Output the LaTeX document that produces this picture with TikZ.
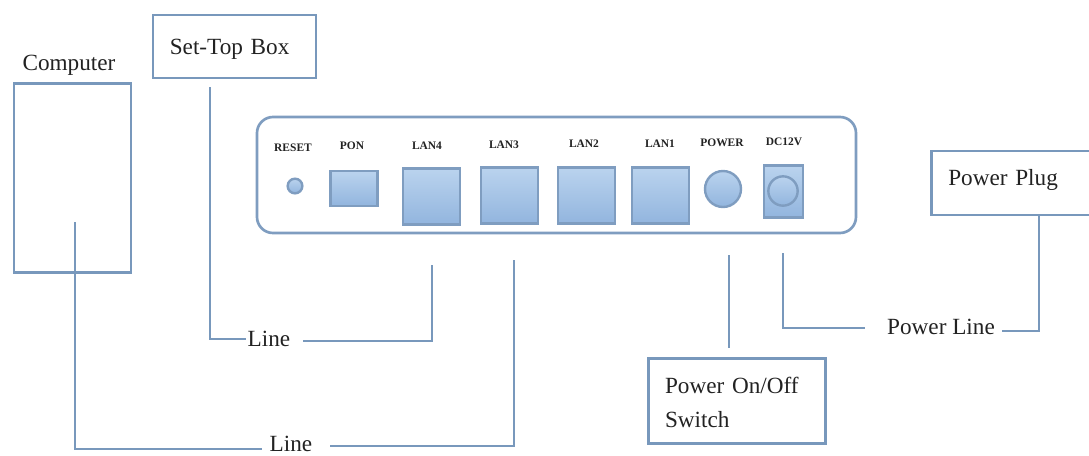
\documentclass[tikz,border=0pt]{standalone}
\usepackage{fontspec}
\setmainfont{Liberation Serif}
\definecolor{portedge}{HTML}{7F9DC0}
\definecolor{porttop}{HTML}{BAD3EE}
\definecolor{portbot}{HTML}{92B5DE}
\definecolor{linecol}{HTML}{7898BC}
\definecolor{inkcol}{HTML}{222222}
\tikzset{
  callout/.style={draw=linecol, line width=1.8pt, inner xsep=12.5pt, inner ysep=0pt, align=left, text=inkcol, font=\fontsize{17.4}{25.5}\selectfont},
  caption/.style={inner sep=1pt, text=inkcol, font=\fontsize{17.4}{20}\selectfont},
  wire/.style={draw=linecol, line width=1.5pt},
  portname/.style={inner sep=0pt, text=inkcol, font=\bfseries\fontsize{8.6}{10}\selectfont},
  port/.style={draw=portedge, line width=1.8pt, top color=porttop, bottom color=portbot, inner sep=0pt},
  rjport/.style={port, minimum width=43pt, minimum height=42pt},
  roundport/.style={port, circle}
}
\begin{document}
\begin{tikzpicture}[x=0.75pt, y=-0.75pt]
\useasboundingbox (0,0) rectangle (1089,455);
% router front panel
\draw[draw=portedge, line width=2pt, rounded corners=12pt] (257,117) rectangle (856,233);
\node[roundport, minimum size=11pt] (reset) at (295,186) {};
\node[port, minimum width=35pt, minimum height=26pt] (pon) at (354,188.5) {};
\node[rjport] (lanfour) at (431.5,196.5) {};
\node[rjport] (lanthree) at (509.5,195.5) {};
\node[rjport] (lantwo) at (586.5,195.5) {};
\node[rjport] (lanone) at (660.5,195.5) {};
\node[roundport, minimum size=27pt] (power) at (723,189) {};
\node[port, minimum width=29pt, minimum height=39pt] (dc) at (783.5,191.5) {};
\node[roundport, minimum size=22pt] (dcjack) at (783,191) {};
% port names
\node[portname] at (293,148) {RESET};
\node[portname] at (352,146) {PON};
\node[portname] at (427,146) {LAN4};
\node[portname] at (504,145) {LAN3};
\node[portname] at (584,144) {LAN2};
\node[portname] at (660,144) {LAN1};
\node[portname] at (722,143) {POWER};
\node[portname] at (784,142) {DC12V};
% devices
\node[caption] at (69,65) {Computer};
\node[callout, minimum height=142pt, minimum width=88pt] (computer) at (72.5,178) {};
\node[callout, text width=97pt, minimum height=47pt, text height=16pt] (stb) at (234.5,46.5) {Set-Top Box};
\node[callout, text width=97pt, minimum height=48pt, text depth=8pt] (plug) at (1013,183) {Power Plug};
\node[callout, text width=108pt, minimum height=64pt] (switch) at (737,401) {\rule{0pt}{15pt}Power On/Off\\Switch};
% cable labels
\node[caption] (lineone) at (269,339) {Line};
\node[caption] (linetwo) at (291,444) {Line};
\node[caption] (linepower) at (941,327) {Power Line};
% free ends of the wires
\coordinate (pc) at (75,222);
\coordinate (stbend) at (210,87);
\coordinate (lanfourend) at (432,265);
\coordinate (lanfourgap) at (303,341);
\coordinate (lanthreeend) at (514,260);
\coordinate (lanthreegap) at (330,446);
\coordinate (pcgap) at (262,449);
\coordinate (switchend) at (729,255);
\coordinate (switchgap) at (729,348);
\coordinate (dcend) at (783,253);
\coordinate (dcgap) at (865,328);
\coordinate (pluggap) at (1002,331);
% wires
\draw[wire] (stbend) |- (lineone.west);
\draw[wire] (lanfourgap) -| (lanfourend);
\draw[wire] (pc) |- (pcgap);
\draw[wire] (lanthreegap) -| (lanthreeend);
\draw[wire] (switchend) -- (switchgap);
\draw[wire] (dcend) |- (dcgap);
\draw[wire] (pluggap) -| (1039,215);
\end{tikzpicture}
\end{document}
